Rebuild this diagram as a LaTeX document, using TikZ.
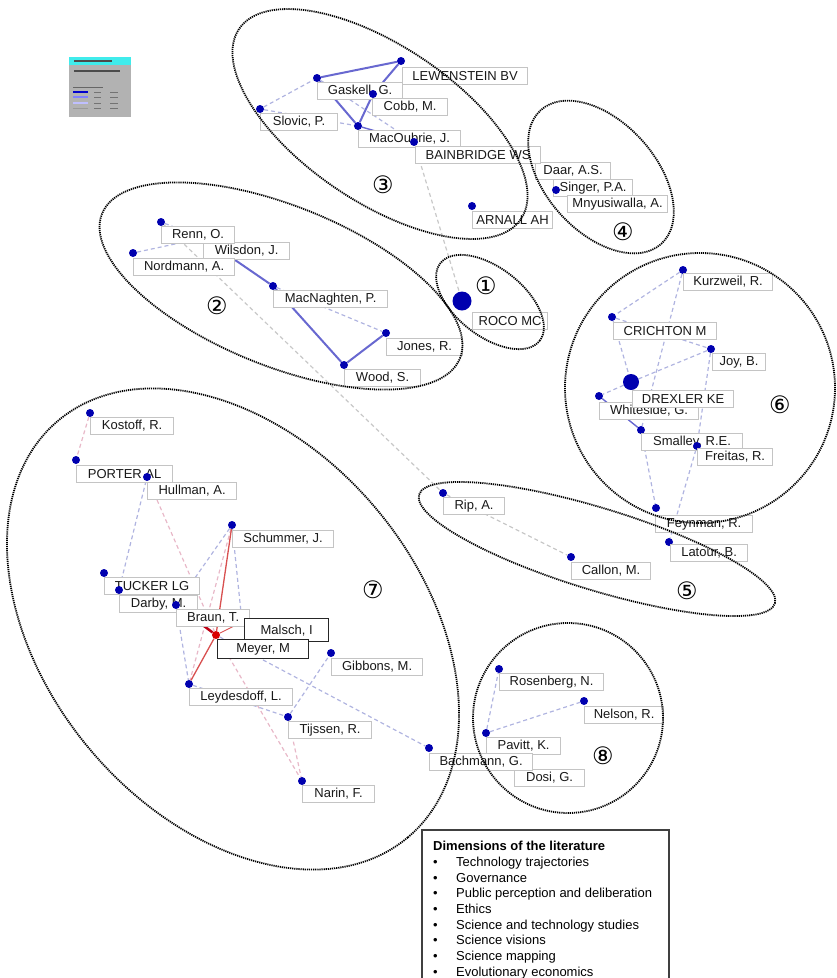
\documentclass[tikz,border=0pt]{standalone}
\usepackage{fontspec}
\setmainfont{Liberation Sans}
\newfontfamily\circfont{DejaVu Sans}
\usepackage{tikz}

\definecolor{nodeblue}{RGB}{0,0,175}
\definecolor{strongedge}{RGB}{104,104,208}
\definecolor{weakedge}{RGB}{176,180,224}
\definecolor{pinkedge}{RGB}{232,184,200}
\definecolor{grayedge}{RGB}{200,200,200}
\definecolor{redline}{RGB}{216,80,80}
\definecolor{darkred}{RGB}{190,0,20}
\definecolor{boxgray}{RGB}{196,196,196}
\definecolor{mapcyan}{RGB}{64,236,236}

\pgfdeclarelayer{background}
\pgfsetlayers{background,main}

\begin{document}
\begin{tikzpicture}[x=1pt, y=-1pt,
  author/.style={circle, fill=nodeblue, inner sep=0pt, minimum size=8pt},
  tag/.style={draw=boxgray, line width=1.2pt, fill=white, anchor=north west,
    minimum height=17pt, inner sep=0pt, text=black!90,
    font=\fontsize{13}{14}\selectfont},
  hub/.style={tag, draw=black!85, line width=1.3pt},
  stronglink/.style={draw=strongedge, line width=2pt},
  weaklink/.style={draw=weakedge, line width=1.2pt, dash pattern=on 4pt off 3pt},
  graylink/.style={weaklink, draw=grayedge},
  pinklink/.style={weaklink, draw=pinkedge},
  redlink/.style={draw=redline, line width=1.3pt},
  cluster/.style={draw=black, line width=1.8pt, dash pattern=on 1.2pt off 0.9pt},
  num/.style={font=\circfont\fontsize{24}{24}\selectfont}]
\useasboundingbox (0,0) rectangle (837,978);

% map legend (top left)
\fill[black!30] (69,57) rectangle (131,117);
\fill[mapcyan] (69,57) rectangle (131,65);
\draw[black!70, line width=1.3pt] (74,61) -- (112,61);
\draw[black!70, line width=1.3pt] (74,71) -- (120,71);
\draw[black!60, line width=1pt] (73,87) -- (103,87);
\draw[blue!80!black, line width=1.6pt] (73,92) -- (88,92);
\draw[blue!50, line width=1.2pt] (73,97) -- (88,97);
\draw[blue!25, line width=1.2pt] (73,103) -- (88,103);
\draw[black!40] (73,108) -- (88,108);
\foreach \y in {92,97,103,108}
  \draw[black!55] (94,\y) -- (101,\y) (110,\y) -- (118,\y);

% cluster 3
\node[author] (slovic) at (260,109) {};
\node[tag, minimum width=77] (slovicL) at (260,113) {Slovic, P.};
\node[author] (lewenstein) at (401,61) {};
\node[tag, minimum width=125] (lewensteinL) at (402,67) {LEWENSTEIN BV};
\node[author] (gaskell) at (317,78) {};
\node[tag, minimum width=85] (gaskellL) at (317,82) {Gaskell, G.};
\node[author] (cobb) at (373,94) {};
\node[tag, minimum width=75] (cobbL) at (372,98) {Cobb, M.};
\node[author] (macoubrie) at (358,126) {};
\node[tag, minimum width=102] (macoubrieL) at (358,130) {MacOubrie, J.};
\node[tag, minimum width=75] (daarL) at (535,162) {Daar, A.S.};
\node[author] (bainbridge) at (414,142) {};
\node[tag, minimum width=125] (bainbridgeL) at (415,146) {BAINBRIDGE WS};
\node[author] (arnall) at (472,206) {};
\node[tag, minimum width=80] (arnallL) at (472,211) {ARNALL AH};

% cluster 4
\node[tag, minimum width=79] (singerL) at (553,179) {Singer, P.A.};
\node[author] (mnyusiwalla) at (556,190) {};
\node[tag, minimum width=100] (mnyusiwallaL) at (567,195) {Mnyusiwalla, A.};

% cluster 2
\coordinate (wilsdon) at (203,238);
\node[tag, minimum width=86] (wilsdonL) at (203,242) {Wilsdon, J.};
\node[author] (renn) at (161,222) {};
\node[tag, minimum width=73] (rennL) at (161,226) {Renn, O.};
\node[author] (nordmann) at (133,253) {};
\node[tag, minimum width=101] (nordmannL) at (133,258) {Nordmann, A.};
\node[author] (macnaghten) at (273,286) {};
\node[tag, minimum width=114] (macnaghtenL) at (273,290) {MacNaghten, P.};
\node[author] (jones) at (386,333) {};
\node[tag, minimum width=76] (jonesL) at (386,338) {Jones, R.};
\node[author] (wood) at (344,365) {};
\node[tag, minimum width=76] (woodL) at (344,369) {Wood, S.};

% cluster 1
\node[author, minimum size=19pt] (roco) at (462,301) {};
\node[tag, minimum width=75] (rocoL) at (472,312) {ROCO MC};

% cluster 6
\node[author] (kurzweil) at (683,270) {};
\node[tag, minimum width=89] (kurzweilL) at (683,273) {Kurzweil, R.};
\node[author] (crichton) at (612,317) {};
\node[tag, minimum width=103] (crichtonL) at (613,322) {CRICHTON M};
\node[author] (joy) at (711,349) {};
\node[tag, minimum width=53] (joyL) at (712,353) {Joy, B.};
\node[author] (whiteside) at (599,396) {};
\node[tag, minimum width=99] (whitesideL) at (599,402) {Whiteside, G.};
\node[author, minimum size=16pt] (drexler) at (631,382) {};
\node[tag, minimum width=101] (drexlerL) at (632,390) {DREXLER KE};
\node[author] (smalley) at (641,430) {};
\node[tag, minimum width=101] (smalleyL) at (641,433) {Smalley, R.E.};
\node[author] (freitas) at (697,446) {};
\node[tag, minimum width=75] (freitasL) at (697,448) {Freitas, R.};
\node[author] (feynman) at (656,508) {};
\node[tag, minimum width=97] (feynmanL) at (655,515) {Feynman, R.};
\node[author] (latour) at (669,542) {};
\node[tag, minimum width=77] (latourL) at (670,544) {Latour, B.};

% cluster 5
\node[author] (rip) at (443,493) {};
\node[tag, minimum width=61] (ripL) at (443,497) {Rip, A.};
\node[author] (callon) at (571,557) {};
\node[tag, minimum width=79] (callonL) at (571,562) {Callon, M.};

% cluster 7
\node[author] (kostoff) at (90,413) {};
\node[tag, minimum width=83] (kostoffL) at (90,417) {Kostoff, R.};
\node[author] (porter) at (76,460) {};
\node[tag, minimum width=96] (porterL) at (76,465) {PORTER AL};
\node[author] (hullman) at (147,477) {};
\node[tag, minimum width=89] (hullmanL) at (147,482) {Hullman, A.};
\node[author] (schummer) at (232,525) {};
\node[tag, minimum width=101] (schummerL) at (232,530) {Schummer, J.};
\node[author] (tucker) at (104,573) {};
\node[tag, minimum width=95] (tuckerL) at (104,577) {TUCKER LG};
\node[author] (darby) at (119,590) {};
\node[tag, minimum width=78] (darbyL) at (119,595) {Darby, M.};
\node[author] (braun) at (176,605) {};
\node[tag, minimum width=73] (braunL) at (176,609) {Braun, T.};
\coordinate (malsch) at (242,622);
\node[hub, minimum width=84, minimum height=23pt] (malschL) at (244,618) {Malsch, I};
\node[hub, minimum width=91, minimum height=19pt] (meyerL) at (217,639) {Meyer, M};
\node[author, fill=red!85!black] (meyer) at (216,635) {};
\node[author] (gibbons) at (331,653) {};
\node[tag, minimum width=91] (gibbonsL) at (331,658) {Gibbons, M.};
\node[author] (leydesdoff) at (189,684) {};
\node[tag, minimum width=103] (leydesdoffL) at (189,688) {Leydesdoff, L.};
\node[author] (tijssen) at (288,717) {};
\node[tag, minimum width=83] (tijssenL) at (288,721) {Tijssen, R.};
\node[author] (narin) at (302,781) {};
\node[tag, minimum width=72] (narinL) at (302,785) {Narin, F.};

% cluster 8
\node[author] (rosenberg) at (499,669) {};
\node[tag, minimum width=104] (rosenbergL) at (499,673) {Rosenberg, N.};
\node[author] (nelson) at (584,701) {};
\node[tag, minimum width=79] (nelsonL) at (584,706) {Nelson, R.};
\node[author] (pavitt) at (486,733) {};
\node[tag, minimum width=74] (pavittL) at (486,737) {Pavitt, K.};
\node[tag, minimum width=70] (dosiL) at (514,769) {Dosi, G.};
\node[author] (bachmann) at (429,748) {};
\node[tag, minimum width=103] (bachmannL) at (429,753) {Bachmann, G.};

% links
\begin{pgfonlayer}{background}
\draw[stronglink] (lewenstein) -- (gaskell);
\draw[stronglink] (lewenstein) -- (cobb);
\draw[stronglink] (gaskell) -- (macoubrie);
\draw[stronglink] (cobb) -- (macoubrie);
\draw[stronglink, line width=1.4pt] (macoubrie) -- (bainbridge);
\draw[weaklink] (slovic) -- (gaskell);
\draw[weaklink] (slovic) -- (macoubrie);
\draw[weaklink] (gaskell) -- (bainbridge);
\draw[graylink] (bainbridge) -- (roco);
\draw[stronglink] (wilsdon) -- (macnaghten);
\draw[stronglink] (macnaghten) -- (wood);
\draw[stronglink] (wood) -- (jones);
\draw[weaklink] (macnaghten) -- (jones);
\draw[weaklink] (nordmann) -- (wilsdon);
\draw[weaklink] (renn) -- (wilsdon);
\draw[graylink] (renn) -- (rip);
\draw[graylink] (rip) -- (callon);
\draw[weaklink] (kurzweil) -- (crichton);
\draw[weaklink] (kurzweil) -- (smalley);
\draw[weaklink] (crichton) -- (drexler);
\draw[weaklink] (crichton) -- (joy);
\draw[weaklink] (drexler) -- (joy);
\draw[weaklink] (drexler) -- (whiteside);
\draw[stronglink, line width=1.4pt] (whiteside) -- (smalley);
\draw[weaklink] (joy) -- (freitas);
\draw[weaklink] (smalley) -- (feynman);
\draw[weaklink] (freitas) -- (latour);
\draw[pinklink] (kostoff) -- (porter);
\draw[weaklink] (hullman) -- (darby);
\draw[pinklink] (hullman) -- (meyer);
\draw[weaklink] (schummer) -- (braun);
\draw[weaklink] (schummer) -- (malsch);
\draw[pinklink] (schummer) -- (leydesdoff);
\draw[redlink] (schummer) -- (meyer);
\draw[redlink] (meyer) -- (leydesdoff);
\draw[redlink, line width=0.9pt] (meyer) -- (malsch);
\draw[draw=darkred, line width=2.5pt] (braun) -- (meyer);
\draw[weaklink] (braun) -- (leydesdoff);
\draw[weaklink] (meyer) -- (bachmann);
\draw[pinklink] (meyer) -- (narin);
\draw[weaklink] (leydesdoff) -- (tijssen);
\draw[weaklink] (tijssen) -- (gibbons);
\draw[pinklink] (tijssen) -- (narin);
\draw[weaklink] (pavitt) -- (rosenberg);
\draw[weaklink] (pavitt) -- (nelson);
\end{pgfonlayer}

% clusters
\draw[cluster, rotate around={-38:(490,302)}] (490,302) ellipse [x radius=63pt, y radius=34pt];
\draw[cluster, rotate around={-22:(281,286)}] (281,286) ellipse [x radius=193pt, y radius=80pt];
\draw[cluster, rotate around={-34:(380,124)}] (380,124) ellipse [x radius=170pt, y radius=78pt];
\draw[cluster, rotate around={-48:(601,177)}] (601,177) ellipse [x radius=90pt, y radius=55pt];
\draw[cluster, rotate around={-17:(597,549)}] (597,549) ellipse [x radius=186pt, y radius=41pt];
\draw[cluster] (700,388) circle [radius=135pt];
\draw[cluster, rotate around={-50:(233,629)}] (233,629) ellipse [x radius=272pt, y radius=187pt];
\draw[cluster] (568,718) circle [radius=95pt];

\node[num] (n1) at (486,286) {①};
\node[num] (n2) at (217,306) {②};
\node[num] (n3) at (383,185) {③};
\node[num] (n4) at (623,232) {④};
\node[num] (n5) at (687,591) {⑤};
\node[num] (n6) at (780,405) {⑥};
\node[num] (n7) at (373,590) {⑦};
\node[num] (n8) at (603,756) {⑧};

% dimensions legend
\draw[black!75, line width=1.2pt] (422,830) rectangle (669,990);
\node[anchor=north west, inner sep=0pt, align=left,
  font=\fontsize{13}{15.7}\selectfont] (dims) at (433,841)
  {\textbf{Dimensions of the literature}\\
   \makebox[23pt][l]{\textbullet}Technology trajectories\\
   \makebox[23pt][l]{\textbullet}Governance\\
   \makebox[23pt][l]{\textbullet}Public perception and deliberation\\
   \makebox[23pt][l]{\textbullet}Ethics\\
   \makebox[23pt][l]{\textbullet}Science and technology studies\\
   \makebox[23pt][l]{\textbullet}Science visions\\
   \makebox[23pt][l]{\textbullet}Science mapping\\
   \makebox[23pt][l]{\textbullet}Evolutionary economics};
\end{tikzpicture}
\end{document}
